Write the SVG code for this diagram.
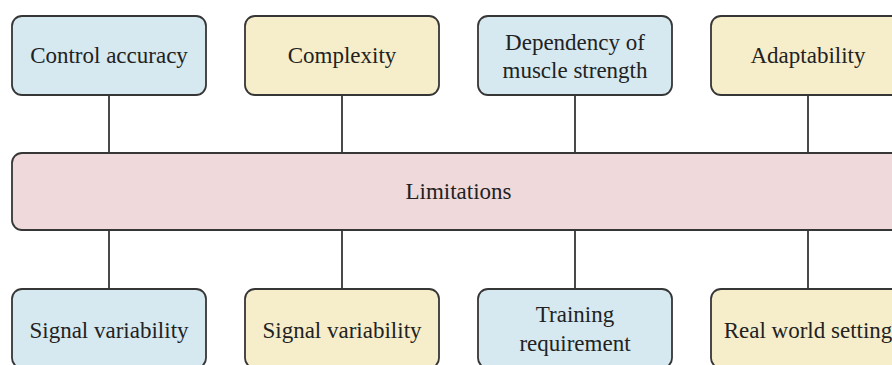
<svg xmlns="http://www.w3.org/2000/svg" width="892" height="365" viewBox="0 0 892 365">
<style>
.box{stroke:#363636;stroke-width:1.8}
.blue{fill:#d6e9f1}
.yellow{fill:#f6eecb}
.pink{fill:#f0d9db}
text{font-size:23px;fill:#222;text-anchor:middle}
.c{stroke:#363636;stroke-width:1.8;fill:none}
</style>
<rect width="892" height="365" fill="#ffffff"/>
<g id="connectors">
<line class="c" x1="109" y1="95" x2="109" y2="153"/>
<line class="c" x1="342" y1="95" x2="342" y2="153"/>
<line class="c" x1="575" y1="95" x2="575" y2="153"/>
<line class="c" x1="808" y1="95" x2="808" y2="153"/>
<line class="c" x1="109" y1="230" x2="109" y2="289"/>
<line class="c" x1="342" y1="230" x2="342" y2="289"/>
<line class="c" x1="575" y1="230" x2="575" y2="289"/>
<line class="c" x1="808" y1="230" x2="808" y2="289"/>
</g>
<g id="limitations">
<rect class="box pink" x="12" y="153" width="893" height="77" rx="10"/>
<text x="458.5" y="199" font-family="Liberation Serif">Limitations</text>
</g>
<g id="control-accuracy">
<rect class="box blue" x="12" y="16" width="194" height="79" rx="10"/>
<text x="109" y="63" font-family="Liberation Serif">Control accuracy</text>
</g>
<g id="complexity">
<rect class="box yellow" x="245" y="16" width="194" height="79" rx="10"/>
<text x="342" y="63" font-family="Liberation Serif">Complexity</text>
</g>
<g id="dependency">
<rect class="box blue" x="478" y="16" width="194" height="79" rx="10"/>
<text x="575" y="50" font-family="Liberation Serif">Dependency of</text>
<text x="575" y="78" font-family="Liberation Serif">muscle strength</text>
</g>
<g id="adaptability">
<rect class="box yellow" x="711" y="16" width="194" height="79" rx="10"/>
<text x="808" y="63" font-family="Liberation Serif">Adaptability</text>
</g>
<g id="signal-variability-1">
<rect class="box blue" x="12" y="289" width="194" height="79" rx="10"/>
<text x="109" y="338" font-family="Liberation Serif">Signal variability</text>
</g>
<g id="signal-variability-2">
<rect class="box yellow" x="245" y="289" width="194" height="79" rx="10"/>
<text x="342" y="338" font-family="Liberation Serif">Signal variability</text>
</g>
<g id="training">
<rect class="box blue" x="478" y="289" width="194" height="79" rx="10"/>
<text x="575" y="322" font-family="Liberation Serif">Training</text>
<text x="575" y="351" font-family="Liberation Serif">requirement</text>
</g>
<g id="real-world">
<rect class="box yellow" x="711" y="289" width="194" height="79" rx="10"/>
<text x="808" y="338" font-family="Liberation Serif">Real world setting</text>
</g>
</svg>
